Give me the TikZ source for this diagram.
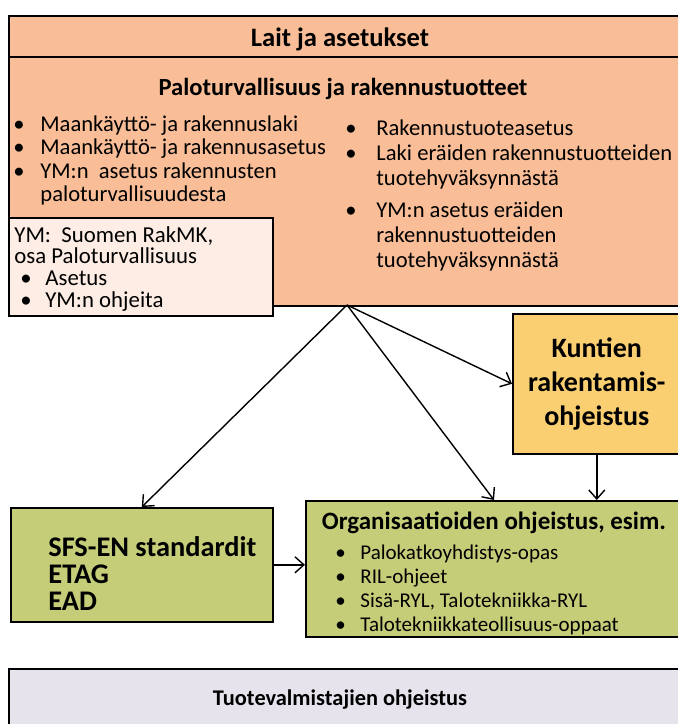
\documentclass[tikz,border=0pt]{standalone}
\usepackage{fontspec}
\setmainfont{Carlito}
\usetikzlibrary{arrows,arrows.meta,positioning}
\definecolor{lawfill}{RGB}{249,190,151}
\definecolor{rakmkfill}{RGB}{253,237,229}
\definecolor{kuntafill}{RGB}{249,207,113}
\definecolor{orgfill}{RGB}{197,205,120}
\definecolor{makerfill}{RGB}{231,227,236}
\newcommand{\bul}[1][13.5pt]{\makebox[#1][l]{\textbullet}}

\begin{document}
\begin{tikzpicture}[x=0.5pt,y=-0.5pt,>={Straight Barb[length=4.5pt,width=8pt]},
    box/.style={draw,thick,anchor=north west,inner sep=0pt},
    head/.style={font=\bfseries\fontsize{12.5}{14}\selectfont},
    body/.style={anchor=north west,align=left,inner sep=0pt,font=\fontsize{11.3}{#1}\selectfont},
    body/.default=12pt,
    link/.style={->,line width=0.7pt}]
    \path[use as bounding box,clip] (0,0) rectangle (678,724);

    \node[box,fill=lawfill,minimum width=345pt,minimum height=145pt] (laws) at (8,15) {};
    \draw[thick] (laws.west |- 0,57) -- (laws.east |- 0,57);
    \node[head,font=\bfseries\fontsize{13.3}{15}\selectfont] (lawtitle) at (340,39) {Lait ja asetukset};
    \node[head,font=\bfseries\fontsize{12.3}{14}\selectfont] (lawsub) at (343,89) {Paloturvallisuus ja rakennustuotteet};

    \node[body=11.75pt] (natlist) at (13,115) {\bul Maankäyttö- ja rakennuslaki\\
        \bul Maankäyttö- ja rakennusasetus\\
        \bul YM:n\ \ asetus rakennusten\\
        \hspace*{13.5pt}paloturvallisuudesta};
    \node[body=12.5pt] (eulist) at (345,119) {\bul[15.5pt]Rakennustuoteasetus\\
        \bul[15.5pt]Laki eräiden rakennustuotteiden\\
        \hspace*{15.5pt}tuotehyväksynnästä\\[3.5pt]
        \bul[15.5pt]YM:n asetus eräiden\\
        \hspace*{15.5pt}rakennustuotteiden\\
        \hspace*{15.5pt}tuotehyväksynnästä};

    \node[box,fill=rakmkfill,minimum width=132pt,minimum height=49pt] (rakmk) at (8,217) {};
    \node[body=10.8pt,font=\fontsize{11.4}{10.8}\selectfont] (rakmktext) at (14,226) {YM:\ \ Suomen RakMK,\\
        osa Paloturvallisuus\\
        \hspace*{3pt}\bul[12.5pt]Asetus\\
        \hspace*{3pt}\bul[12.5pt]YM:n ohjeita};

    \node[box,fill=kuntafill,minimum width=84pt,minimum height=70pt,align=center,
        font=\bfseries\fontsize{14}{17}\selectfont] (kunta) at (512,313) {Kuntien\\rakentamis-\\ohjeistus};

    \node[box,fill=orgfill,minimum width=131pt,minimum height=57pt] (sfs) at (10,507) {};
    \node[body,font=\bfseries\fontsize{14.2}{13.5}\selectfont] (sfstext) at (48,536) {SFS-EN standardit\\ETAG\\EAD};

    \node[box,fill=orgfill,minimum width=190pt,minimum height=68pt] (org) at (305,500) {};
    \node[head] (orgtitle) at (494,523) {Organisaatioiden ohjeistus, esim.};
    \node[body=12pt,font=\fontsize{10.5}{12}\selectfont] (orglist) at (335,545) {\bul[12.5pt]Palokatkoyhdistys-opas\\
        \bul[12.5pt]RIL-ohjeet\\
        \bul[12.5pt]Sisä-RYL, Talotekniikka-RYL\\
        \bul[12.5pt]Talotekniikkateollisuus-oppaat};

    \node[box,fill=makerfill,minimum width=345pt,minimum height=40pt] (makers) at (8,668) {};
    \node[head,font=\bfseries\fontsize{11.2}{13}\selectfont] (makertitle) at (340,700) {Tuotevalmistajien ohjeistus};

    \coordinate (fork) at (347,305);
    \draw[link] (fork) -- (sfs.north);
    \draw[link] (fork) -- (orgtitle.north |- org.north);
    \draw[link] (fork) -- (kunta.west);
    \draw[link] (kunta.south) -- (kunta.south |- org.north);
    \draw[link] (sfs.east) -- (sfs.east -| org.west);
\end{tikzpicture}
\end{document}
